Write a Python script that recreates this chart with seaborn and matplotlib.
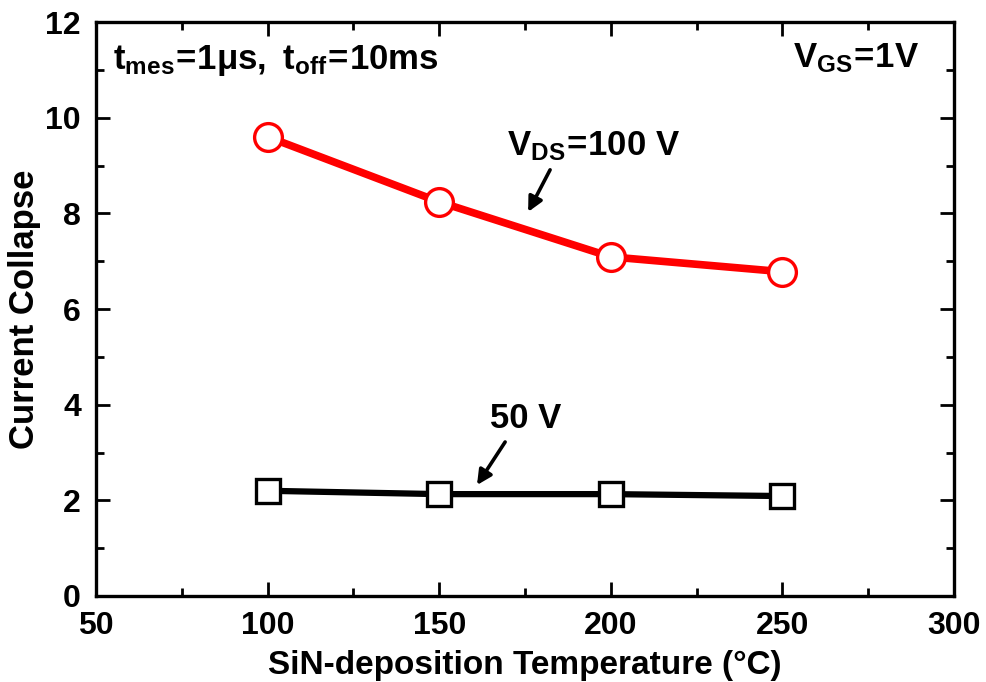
import matplotlib
matplotlib.use("Agg")
import matplotlib.pyplot as plt
import seaborn as sns
import pandas as pd
from matplotlib.ticker import MultipleLocator

# Measured current collapse vs. SiN deposition temperature
temperature = [100, 150, 200, 250]
collapse_100v = [9.60, 8.24, 7.09, 6.78]
collapse_50v = [2.20, 2.13, 2.13, 2.09]

x_ticks = [50, 100, 150, 200, 250, 300]
y_ticks = [0, 2, 4, 6, 8, 10, 12]

sns.set_style("ticks")
plt.rcParams["font.family"] = ["Liberation Sans", "DejaVu Sans"]
plt.rcParams["font.weight"] = "bold"
plt.rcParams["mathtext.fontset"] = "custom"
plt.rcParams["mathtext.rm"] = "Liberation Sans:bold"
plt.rcParams["mathtext.it"] = "Liberation Sans:bold"
plt.rcParams["mathtext.bf"] = "Liberation Sans:bold"
for key in ["text.color", "axes.labelcolor", "axes.edgecolor",
            "xtick.color", "ytick.color"]:
    plt.rcParams[key] = "black"

fig = plt.figure(figsize=(9.87, 6.82), dpi=100)
ax = fig.add_axes([0.0973, 0.1261, 0.8693, 0.8416])

df100 = pd.DataFrame({"T": temperature, "CC": collapse_100v})
df50 = pd.DataFrame({"T": temperature, "CC": collapse_50v})

sns.lineplot(data=df100, x="T", y="CC", ax=ax, color="#ff0000", linewidth=5.5,
             marker="o", markersize=20, markerfacecolor="white",
             markeredgecolor="#ff0000", markeredgewidth=2.4, zorder=3)
sns.lineplot(data=df50, x="T", y="CC", ax=ax, color="black", linewidth=4.5,
             marker="s", markersize=17, markerfacecolor="white",
             markeredgecolor="black", markeredgewidth=2.4, zorder=3)

ax.set_xlim(50, 300)
ax.set_ylim(0, 12)
ax.set_xticks(x_ticks)
ax.set_yticks(y_ticks)
ax.xaxis.set_minor_locator(MultipleLocator(25))
ax.yaxis.set_minor_locator(MultipleLocator(1))
ax.tick_params(which="both", direction="in", top=True, right=True,
               width=2, labelsize=23, colors="black")
ax.tick_params(which="major", length=10, pad=11)
ax.tick_params(which="minor", length=6)
for lbl in ax.get_xticklabels() + ax.get_yticklabels():
    lbl.set_fontweight("bold")
for sp in ax.spines.values():
    sp.set_linewidth(2.4)
    sp.set_color("black")

ax.set_xlabel("SiN-deposition Temperature (°C)", fontsize=24, fontweight="bold", labelpad=6)
ax.set_ylabel("Current Collapse", fontsize=25, fontweight="bold", labelpad=3)

ax.text(0.0198, 0.918, r"$\mathrm{t_{mes}\!=\!1μs,\ t_{off}\!=\!10ms}$",
        transform=ax.transAxes, fontsize=25, ha="left", va="baseline")
ax.text(0.960, 0.9216, r"$\mathrm{V_{GS}\!=\!1V}$",
        transform=ax.transAxes, fontsize=25, ha="right", va="baseline")

ax.text(169.8, 9.22, r"$\mathrm{V_{DS}\!=\!100\ V}$", fontsize=25,
        ha="left", va="baseline")
ax.text(164.8, 3.51, "50 V", fontsize=25, fontweight="bold",
        ha="left", va="baseline")

arrow = dict(arrowstyle="-|>", color="black", lw=2.6,
             mutation_scale=22, shrinkA=0, shrinkB=0)
ax.annotate("", xy=(175.9, 8.03), xytext=(182.3, 8.91), arrowprops=arrow)
ax.annotate("", xy=(161.0, 2.32), xytext=(169.2, 3.22), arrowprops=arrow)

fig.savefig("out.png", dpi=100)
